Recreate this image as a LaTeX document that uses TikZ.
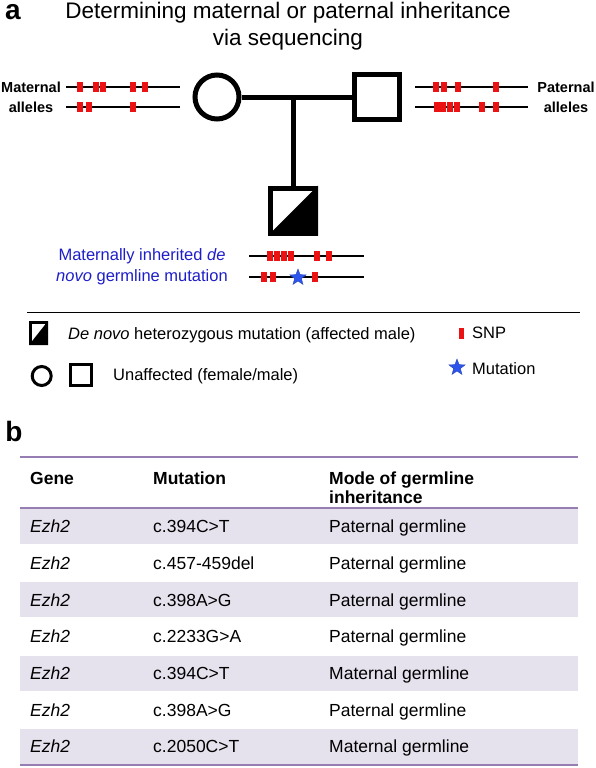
\documentclass[tikz,border=0pt]{standalone}
\usepackage{fontspec}
\setmainfont{Liberation Sans}
\usetikzlibrary{shapes.geometric}
\usepackage{xcolor}
\definecolor{snpred}{RGB}{234,18,18}
\definecolor{starblue}{RGB}{45,85,235}
\definecolor{noteblue}{RGB}{30,30,200}
\definecolor{tabline}{RGB}{150,126,178}
\definecolor{rowshade}{RGB}{229,225,237}

\begin{document}
\begin{tikzpicture}[x=1pt,y=-1pt,
  ped/.style={draw,line width=5pt,fill=white,inner sep=0pt},
  keyped/.style={draw,line width=3pt,fill=white,inner sep=0pt},
  allele/.style={line width=1.8pt},
  mutstar/.style={star,star points=5,star point ratio=2.4,fill=starblue,draw=starblue!80!black,line width=0.4pt,inner sep=0pt,minimum size=17pt},
  lbl/.style={font=\fontsize{17.5}{18.5}\selectfont,anchor=base west,inner sep=0pt},
  keytxt/.style={font=\fontsize{16.5}{18}\selectfont,anchor=west,inner sep=0pt}]
\useasboundingbox (0,0) rectangle (596,768);
\node[font=\fontsize{28}{28}\selectfont\bfseries,inner sep=0pt] (lbla) at (13,12) {a};
\node[align=center,font=\fontsize{22.5}{27}\selectfont] (title) at (288,26) {Determining maternal or paternal inheritance\\via sequencing};

\node[ped,circle,minimum size=44pt] (mom) at (217,97) {};
\node[ped,rectangle,minimum size=45pt] (dad) at (377,97) {};
\node[ped,rectangle,minimum size=45pt] (son) at (293,210.5) {};
\fill (son.south west) -- (son.south east) -- (son.north east) -- cycle;
\coordinate (mid) at (293,97);
\draw[line width=5pt] (mom) -- (dad);
\draw[line width=5pt] (mid) -- (son);

\node[align=center,font=\fontsize{14.5}{20}\selectfont\bfseries] (matlbl) at (31,97) {Maternal\\alleles};
\node[align=center,font=\fontsize{14.5}{20}\selectfont\bfseries] (patlbl) at (566,97) {Paternal\\alleles};
\foreach \y in {87,107} {
  \draw[allele] (66,\y) -- (180,\y);
  \draw[allele] (415,\y) -- (528,\y);
}
\draw[allele] (249,256) -- (364,256);
\draw[allele] (249,277) -- (364,277);
\foreach \x/\y in {80/87,96/87,103/87,133/87,145/87,79.5/107,89/107,133/107,
  436/87,443.5/87,458/87,496/87,436.5/107,443.3/107,450/107,456.7/107,481.7/107,495.5/107,
  269.5/256,276.7/256,283.9/256,291.1/256,317/256,328.7/256,263.5/277,273/277,315/277}
  \fill[snpred] ({\x-3},{\y-5}) rectangle ({\x+3},{\y+5});
\node[mutstar] (mut) at (298,277.5) {};
\node[align=center,text=noteblue,font=\fontsize{16.5}{21}\selectfont] (note) at (142,266.5) {Maternally inherited \textit{de}\\\textit{novo} germline mutation};

\draw[line width=0.8pt] (27,312.5) -- (580,312.5);
\node[keyped,rectangle,minimum width=16pt,minimum height=21pt] (keyson) at (38.5,333) {};
\fill (keyson.south west) -- (keyson.south east) -- (keyson.north east) -- cycle;
\node[keytxt] (keysontxt) at (68,335) {\textit{De novo} heterozygous mutation (affected male)};
\node[keyped,circle,minimum size=19pt] (keymom) at (41.7,376) {};
\node[keyped,rectangle,minimum size=21.5pt] (keydad) at (80.8,375) {};
\node[keytxt] (keyparenttxt) at (113,376.5) {Unaffected (female/male)};
\fill[snpred] (458.5,328) rectangle (463.5,339);
\node[keytxt] (keysnp) at (472,333) {SNP};
\node[mutstar] (keymut) at (457,367.5) {};
\node[keytxt] (keymuttxt) at (472,369) {Mutation};

\node[font=\fontsize{28}{28}\selectfont\bfseries,inner sep=0pt] (lblb) at (14,431) {b};
\foreach \i in {0,2,4,6}
  \fill[rowshade] (20,{508+\i*36.71+1}) rectangle (578,{508+(\i+1)*36.71-1});
\draw[tabline,line width=1.5pt] (20,457) -- (578,457);
\draw[tabline,line width=1.5pt] (20,508) -- (578,508);
\draw[tabline,line width=1.5pt] (20,765) -- (578,765);
\node[lbl,font=\fontsize{17.5}{18.5}\selectfont\bfseries] (hgene) at (30,484) {Gene};
\node[lbl,font=\fontsize{17.5}{18.5}\selectfont\bfseries] (hmut) at (153,484) {Mutation};
\node[lbl,font=\fontsize{17.5}{18.5}\selectfont\bfseries] (hmode) at (329,484) {Mode of germline};
\node[lbl,font=\fontsize{17.5}{18.5}\selectfont\bfseries] (hmode2) at (329,503) {inheritance};
\foreach \mut/\mode [count=\i] in {c.394C>T/Paternal,c.457-459del/Paternal,c.398A>G/Paternal,
  c.2233G>A/Paternal,c.394C>T/Maternal,c.398A>G/Paternal,c.2050C>T/Maternal} {
  \node[lbl] (gene\i) at (30,{508+36.71*(\i-0.5)+6.3}) {\textit{Ezh2}};
  \node[lbl] (mut\i) at (153,{508+36.71*(\i-0.5)+6.3}) {\mut};
  \node[lbl] (mode\i) at (329,{508+36.71*(\i-0.5)+6.3}) {\mode\ germline};
}
\end{tikzpicture}
\end{document}
